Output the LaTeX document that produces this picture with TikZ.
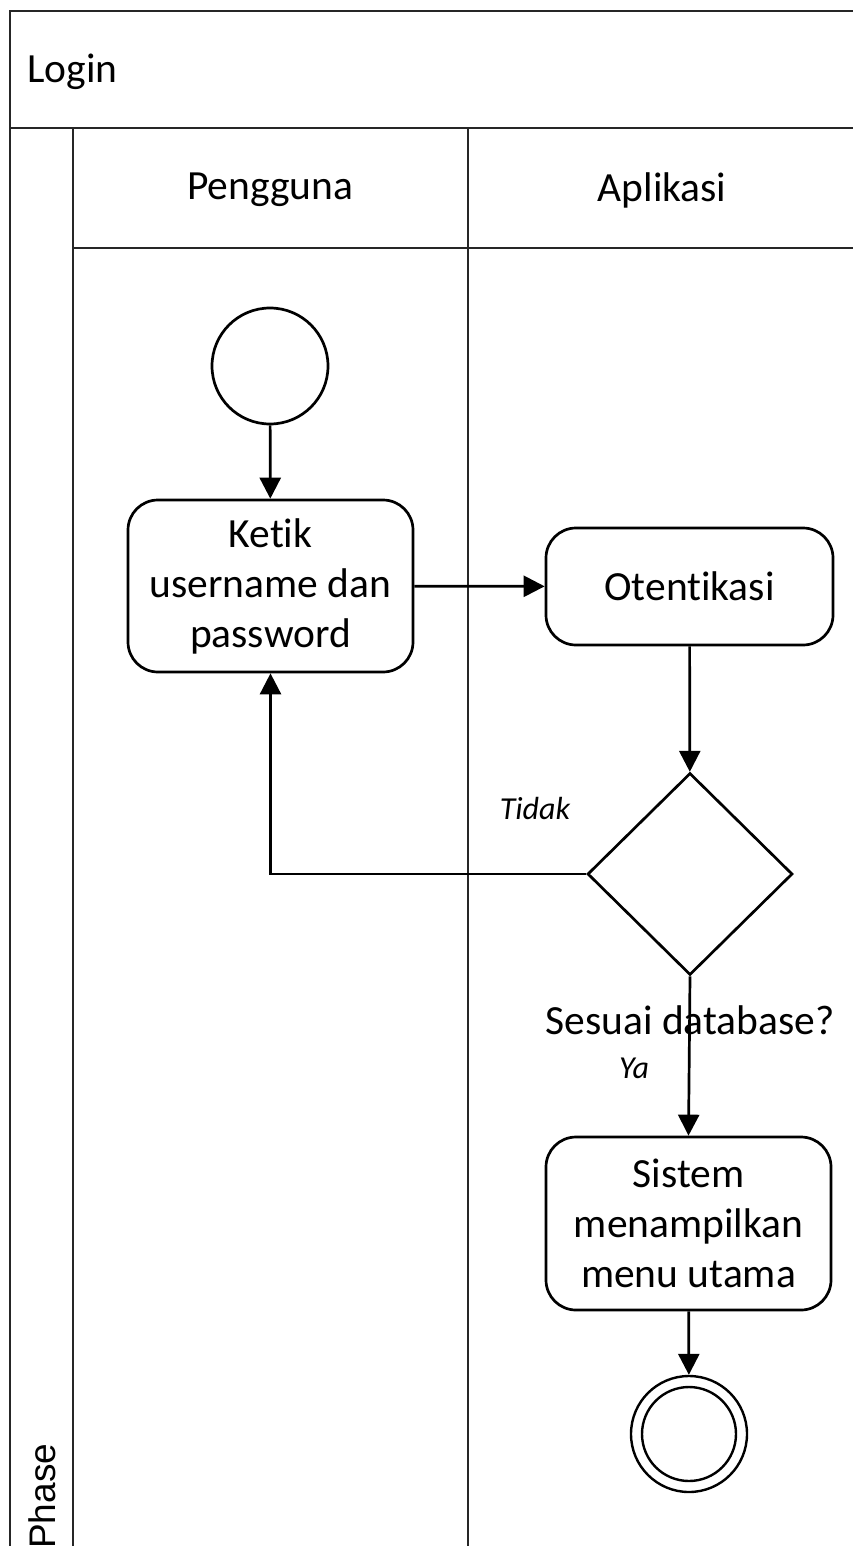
\documentclass[tikz,border=0pt]{standalone}
\usepackage{fontspec}
\setmainfont{Carlito}[Ligatures={NoCommon}]
\newfontfamily\phasefont{Liberation Sans}
\usetikzlibrary{arrows.meta,shapes.geometric}

\begin{document}
\begin{tikzpicture}[x=1pt,y=-1pt,
  frame/.style={line width=2.7pt,draw=black!85},
  flow/.style={line width=2.7pt,-{Triangle[length=21pt,width=21pt]}},
  act/.style={draw,line width=2.7pt,rounded corners=30pt,align=center,
    inner sep=0pt,font=\fontsize{41.5}{50}\selectfont},
  lbl/.style={font=\fontsize{41.5}{50}\selectfont,inner sep=0pt},
  guard/.style={font=\fontsize{32}{38}\selectfont\itshape,inner sep=0pt}]
\useasboundingbox (0,0) rectangle (853,1546);
\begin{scope}
\clip (0,0) rectangle (853,1546);
% swimlane frame
\draw[frame] (10,1560) -- (10,11) -- (870,11);
\draw[frame] (10,128) -- (870,128);
\draw[frame] (73,128) -- (73,1560);
\draw[frame] (468,128) -- (468,1560);
\draw[frame] (73,248) -- (870,248);
\node[lbl,anchor=west] (title) at (27,72) {Login};
\node[lbl] (laneA) at (270,190) {Pengguna};
\node[lbl] (laneB) at (662,190) {Aplikasi};
\node[rotate=90,anchor=west,inner sep=0pt,
  font=\phasefont\fontsize{37}{40}\selectfont] (phase) at (42,1549) {Phase};

% activity nodes
\node[draw,circle,line width=2.7pt,minimum size=116pt] (start) at (270,366) {};
\node[act,minimum width=285pt,minimum height=172pt] (ketik) at (270.5,586)
  {Ketik\\username dan\\password};
\node[act,minimum width=287pt,minimum height=117pt] (oten) at (689.5,586.5)
  {Otentikasi};
\node[draw,diamond,line width=2.7pt,minimum width=205pt,minimum height=202pt,
  inner sep=0pt] (cek) at (690,874) {};
\node[lbl] (cekl) at (690,1020) {Sesuai database?};
\node[act,minimum width=285pt,minimum height=173pt] (sistem) at (688.5,1223.5)
  {Sistem\\menampilkan\\menu utama};
\node[draw,circle,line width=2.4pt,minimum size=116pt] (end) at (689,1434) {};
\draw[line width=2.4pt] (end.center) circle[radius=47];

% guards
\node[guard] (tidak) at (535,808) {Tidak};
\node[guard] (ya) at (634,1068) {Ya};

% connectors
\draw[flow] (start) -- (ketik);
\draw[flow] (ketik) -- (oten);
\draw[flow] (oten) -- (cek);
\draw[flow] (cek.west) -| (ketik.south);
\draw[flow] (cek.south) -- (sistem.north);
\draw[flow] (sistem) -- (end);
\end{scope}
\end{tikzpicture}
\end{document}
